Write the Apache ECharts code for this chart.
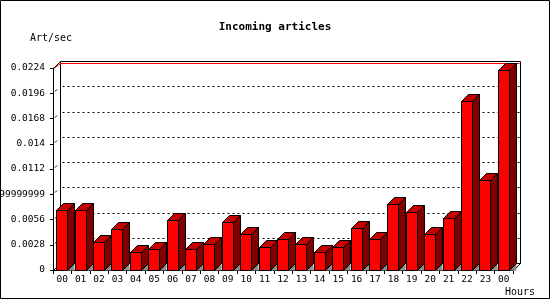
<!DOCTYPE html>
<html>
<head>
<meta charset="utf-8">
<script src="https://cdn.jsdelivr.net/npm/echarts@6/dist/echarts.min.js"></script>
<style>
html,body{margin:0;padding:0;background:#fff;}
#chart{width:550px;height:300px;}
</style>
</head>
<body>
<div id="chart"></div>
<script>
// ---- data ----
const hours = ['00','01','02','03','04','05','06','07','08','09','10','11','12','13','14','15','16','17','18','19','20','21','22','23','00'];
const articlesPerSec = [0.0067,0.0067,0.0031,0.0045,0.0020,0.0023,0.0056,0.0023,0.0029,0.0053,0.0040,0.0025,0.0034,0.0029,0.0020,0.0025,0.0047,0.0034,0.0073,0.0064,0.0040,0.0058,0.0187,0.0100,0.0222];
const yTickValues = [0,0.0028,0.0056,0.0084,0.0112,0.014,0.0168,0.0196,0.0224];
const yTickLabels = ['0','0.0028','0.0056','0.008399999999999999','0.0112','0.014','0.0168','0.0196','0.0224'];
const titleText = 'Incoming articles';
const yUnit = 'Art/sec';
const xUnit = 'Hours';

// ---- chart ----
const FONT = 'DejaVu Sans Mono';
const DEPTH = 7;
const chart = echarts.init(document.getElementById('chart'), null, {renderer:'canvas'});
const px = v => Math.round(v) + 0.5;

function renderFrame(params, api) {
  const cs = params.coordSys;
  const x0 = px(cs.x), x1 = px(cs.x + cs.width);
  const yTop = px(api.coord([0, yTickValues[yTickValues.length - 1]])[1]);
  const y0 = px(api.coord([0, 0])[1]);
  const d = DEPTH;
  const ch = [];
  // back wall
  ch.push({type:'rect', shape:{x:x0+d, y:yTop-d, width:x1-x0, height:y0-yTop}, style:{fill:'#fff', stroke:'#000', lineWidth:1}});
  // dotted gridlines on back wall
  for (let k = 1; k < yTickValues.length - 1; k++) {
    const y = px(api.coord([0, yTickValues[k]])[1]) - d;
    ch.push({type:'line', shape:{x1:x0+d+2, y1:y, x2:x1+d, y2:y}, style:{stroke:'#000', lineWidth:1, lineDash:[2,3]}});
    const yf = px(api.coord([0, yTickValues[k]])[1]);
    ch.push({type:'line', shape:{x1:x0+1.5, y1:yf-2, x2:x0+3.5, y2:yf-4}, style:{stroke:'#000', lineWidth:1}});
  }
  // red top line
  ch.push({type:'line', shape:{x1:x0+d, y1:yTop-5, x2:x1+d-1, y2:yTop-5}, style:{stroke:'#ff0000', lineWidth:1}});
  ch.push({type:'line', shape:{x1:x0+1, y1:yTop-0.5, x2:x0+d, y2:yTop-5}, style:{stroke:'#ff0000', lineWidth:1}});
  // corner diagonals
  ch.push({type:'line', shape:{x1:x0, y1:yTop, x2:x0+d, y2:yTop-d}, style:{stroke:'#000', lineWidth:1}});
  ch.push({type:'line', shape:{x1:x0, y1:y0, x2:x0+d, y2:y0-d}, style:{stroke:'#000', lineWidth:1}});
  ch.push({type:'line', shape:{x1:x1, y1:y0, x2:x1+d, y2:y0-d}, style:{stroke:'#000', lineWidth:1}});
  return {type:'group', children:ch};
}

function renderBar(params, api) {
  const top = api.coord([api.value(0), api.value(1)]);
  const base = api.coord([api.value(0), 0]);
  const c = top[0];
  const w = 11, d = DEPTH;
  const xl = Math.floor(c - 5.5) + 0.5, xr = xl + w;
  const yt = px(top[1]), yb = px(base[1]);
  return {type:'group', children:[
    {type:'polygon', shape:{points:[[xr,yb],[xr+d,yb-d],[xr+d,yb]]}, style:{fill:'#8c8c8c', stroke:null}},
    {type:'polygon', shape:{points:[[xr,yt],[xr+d,yt-d],[xr+d,yb-d],[xr,yb]]}, style:{fill:'#800000', stroke:'#000', lineWidth:1}},
    {type:'polygon', shape:{points:[[xl,yt],[xr,yt],[xr+d,yt-d],[xl+d,yt-d]]}, style:{fill:'#c40000', stroke:'#000', lineWidth:1}},
    {type:'rect', shape:{x:xl, y:yt, width:w, height:yb-yt}, style:{fill:'#ff0000', stroke:'#000', lineWidth:1}}
  ]};
}

const option = {
  backgroundColor:'#fff',
  animation:false,
  grid:{left:53, right:37, top:68, bottom:30, containLabel:false, outerBoundsMode:'none'},
  xAxis:{
    type:'category', data:hours, boundaryGap:true,
    axisLine:{show:true, lineStyle:{color:'#000', width:1}},
    axisTick:{show:true, length:4, lineStyle:{color:'#000'}},
    axisLabel:{color:'#000', fontFamily:FONT, fontSize:9.5, margin:5, interval:0, hideOverlap:false},
    splitLine:{show:false}
  },
  yAxis:{
    type:'value', min:0, max:0.0224, interval:0.0028,
    axisLine:{show:true, lineStyle:{color:'#000', width:1}},
    axisTick:{show:true, length:3, lineStyle:{color:'#000'}},
    axisLabel:{color:'#000', fontFamily:FONT, fontSize:9.5, margin:8,
      formatter:(v, i) => yTickLabels[i] !== undefined ? yTickLabels[i] : String(v)},
    splitLine:{show:false}
  },
  series:[
    {type:'custom', z:1, renderItem:renderFrame, data:[[0,0]], silent:true, clip:false},
    {type:'custom', z:2, renderItem:renderBar, encode:{x:0,y:1},
      data:hours.map((h,i)=>[i, articlesPerSec[i]]), clip:false}
  ],
  graphic:[
    {type:'rect', z:100, shape:{x:0.5, y:0.5, width:549, height:298}, style:{fill:null, stroke:'#000', lineWidth:1}, silent:true},
    {type:'text', z:100, x:275, y:27, style:{text:titleText, fontFamily:FONT, fontSize:11, fontWeight:'bold', fill:'#000', align:'center', verticalAlign:'middle'}},
    {type:'text', z:100, x:51, y:38, style:{text:yUnit, fontFamily:FONT, fontSize:10, fill:'#000', align:'center', verticalAlign:'middle'}},
    {type:'text', z:100, x:520, y:292, style:{text:xUnit, fontFamily:FONT, fontSize:10, fill:'#000', align:'center', verticalAlign:'middle'}}
  ]
};
chart.setOption(option);
</script>
</body>
</html>
